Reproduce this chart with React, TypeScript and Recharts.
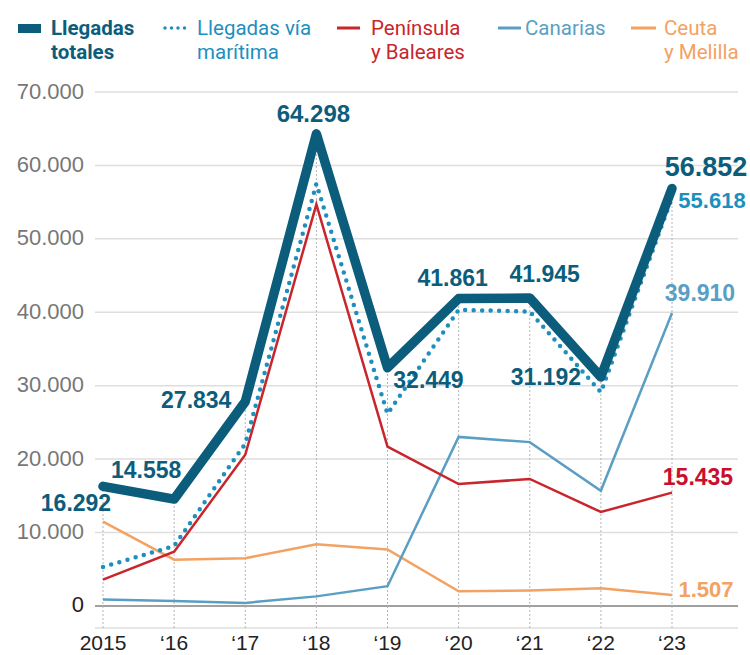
import { CartesianGrid, LabelList, Line, LineChart, ReferenceLine, XAxis, YAxis } from "recharts";

const years = ["2015", "‘16", "‘17", "‘18", "‘19", "‘20", "‘21", "‘22", "‘23"];
const totales = [16292, 14558, 27834, 64298, 32449, 41861, 41945, 31192, 56852];
const maritima = [5312, 8162, 22103, 57498, 26168, 40326, 40106, 29104, 55618];
const peninsula = [3600, 7400, 20600, 54700, 21700, 16600, 17300, 12800, 15435];
const canarias = [874, 671, 421, 1307, 2698, 23023, 22316, 15682, 39910];
const ceuta = [11500, 6300, 6500, 8400, 7700, 2000, 2100, 2400, 1507];
const yTicks = [0, 10000, 20000, 30000, 40000, 50000, 60000, 70000];

const data = years.map((year, i) => ({
  year,
  totales: totales[i],
  maritima: maritima[i],
  peninsula: peninsula[i],
  canarias: canarias[i],
  ceuta: ceuta[i],
}));

const C = {
  totales: "#0c5d7c",
  maritima: "#1d8fbf",
  peninsula: "#c9252c",
  canarias: "#5a9fc3",
  ceuta: "#f2a263",
};

const NUM_FONT = "'Liberation Sans', Arial, sans-serif";
const fmt = (v: number) => String(v).replace(/\B(?=(\d{3})+(?!\d))/g, ".");

// label offsets relative to the point, by index: dx, dy, font size
const totalOffsets: Record<number, [number, number, number]> = {
  0: [-27, 25, 23],
  1: [-28, -21, 23],
  2: [-49, 6, 23],
  3: [-3, -12, 24],
  4: [41, 20, 23],
  5: [-6, -13, 23],
  6: [15, -16, 23],
  7: [-55, 8, 23],
  8: [34, -13, 27],
};

function makeLabel(color: string, offsets: Record<number, [number, number, number]>) {
  return (props: any) => {
    const o = offsets[props.index];
    if (!o) return null;
    return (
      <text
        x={props.x + o[0]}
        y={props.y + o[1]}
        textAnchor="middle"
        fill={color}
        fontFamily={NUM_FONT}
        fontWeight="bold"
        fontSize={o[2]}
      >
        {fmt(props.value)}
      </text>
    );
  };
}

function YTick(props: any) {
  const { x, y, payload } = props;
  return (
    <text
      x={x - 3}
      y={y - 1}
      textAnchor="end"
      dominantBaseline="central"
      fill={payload.value === 0 ? "#222" : "#777"}
      fontFamily={NUM_FONT}
      fontSize={22}
    >
      {fmt(payload.value)}
    </text>
  );
}

function XTick(props: any) {
  const { x, y, payload } = props;
  return (
    <text x={x} y={y} dy={14} textAnchor="middle" fill="#222" fontFamily={NUM_FONT} fontSize={21}>
      {payload.value}
    </text>
  );
}

function Legend() {
  const txt = { fontFamily: "Roboto, sans-serif", fontSize: 20.5 };
  return (
    <svg width={750} height={70} style={{ position: "absolute", left: 0, top: 0 }}>
      <rect x={18} y={24} width={23} height={9} fill={C.totales} />
      <text x={51} y={35} fill={C.totales} fontWeight="bold" {...txt}>
        Llegadas
      </text>
      <text x={51} y={59} fill={C.totales} fontWeight="bold" {...txt}>
        totales
      </text>

      <line x1={165} x2={185} y1={28} y2={28} stroke={C.maritima} strokeWidth={3.5} strokeLinecap="round" strokeDasharray="0 6.5" />
      <text x={197} y={35} fill={C.maritima} {...txt}>
        Llegadas vía
      </text>
      <text x={197} y={59} fill={C.maritima} {...txt}>
        marítima
      </text>

      <line x1={337} x2={360} y1={28} y2={28} stroke={C.peninsula} strokeWidth={3} />
      <text x={371} y={35} fill={C.peninsula} {...txt}>
        Península
      </text>
      <text x={371} y={59} fill={C.peninsula} {...txt}>
        y Baleares
      </text>

      <line x1={498} x2={521} y1={28} y2={28} stroke={C.canarias} strokeWidth={3} />
      <text x={525} y={35} fill={C.canarias} {...txt}>
        Canarias
      </text>

      <line x1={631} x2={656} y1={28} y2={28} stroke={C.ceuta} strokeWidth={3} />
      <text x={664} y={35} fill={C.ceuta} {...txt}>
        Ceuta
      </text>
      <text x={664} y={59} fill={C.ceuta} {...txt}>
        y Melilla
      </text>
    </svg>
  );
}

export default function App() {
  return (
    <div style={{ position: "relative", width: 750, height: 655, background: "#fff" }}>
      <style>{"body{margin:0}"}</style>
      <LineChart width={750} height={655} data={data} margin={{ top: 92, right: 12, bottom: 0, left: 0 }}>
        <CartesianGrid vertical={false} stroke="#dedede" strokeWidth={1.5} />
        <XAxis
          dataKey="year"
          axisLine={false}
          tickLine={false}
          padding={{ left: 8, right: 66 }}
          height={27}
          tick={<XTick />}
          interval={0}
        />
        <YAxis
          domain={[-3000, 70000]}
          ticks={yTicks}
          axisLine={false}
          tickLine={false}
          width={95}
          tick={<YTick />}
          interval={0}
        />
        <ReferenceLine y={0} stroke="#a0a0a0" strokeWidth={2} />
        {years.map((y, i) => (
          <ReferenceLine
            key={y}
            segment={[
              { x: y, y: -3000 },
              { x: y, y: totales[i] },
            ]}
            stroke="#b5b5b5"
            strokeDasharray="2 2"
          />
        ))}
        <Line dataKey="ceuta" stroke={C.ceuta} strokeWidth={2.5} dot={false} isAnimationActive={false}>
          <LabelList dataKey="ceuta" content={makeLabel(C.ceuta, { 8: [34, 2, 22] })} />
        </Line>
        <Line dataKey="canarias" stroke={C.canarias} strokeWidth={2.5} dot={false} isAnimationActive={false}>
          <LabelList dataKey="canarias" content={makeLabel(C.canarias, { 8: [28, -12, 23] })} />
        </Line>
        <Line dataKey="peninsula" stroke={C.peninsula} strokeWidth={2.5} dot={false} isAnimationActive={false}>
          <LabelList dataKey="peninsula" content={makeLabel("#c8102e", { 8: [26, -8, 23] })} />
        </Line>
        <Line
          dataKey="maritima"
          stroke={C.maritima}
          strokeWidth={4.5}
          strokeDasharray="0 8.5"
          strokeLinecap="round"
          dot={false}
          isAnimationActive={false}
        >
          <LabelList dataKey="maritima" content={makeLabel(C.maritima, { 8: [40, 10, 22] })} />
        </Line>
        <Line
          dataKey="totales"
          stroke={C.totales}
          strokeWidth={9.5}
          strokeLinejoin="round"
          strokeLinecap="round"
          dot={false}
          isAnimationActive={false}
        >
          <LabelList dataKey="totales" content={makeLabel(C.totales, totalOffsets)} />
        </Line>
      </LineChart>
      <Legend />
    </div>
  );
}
